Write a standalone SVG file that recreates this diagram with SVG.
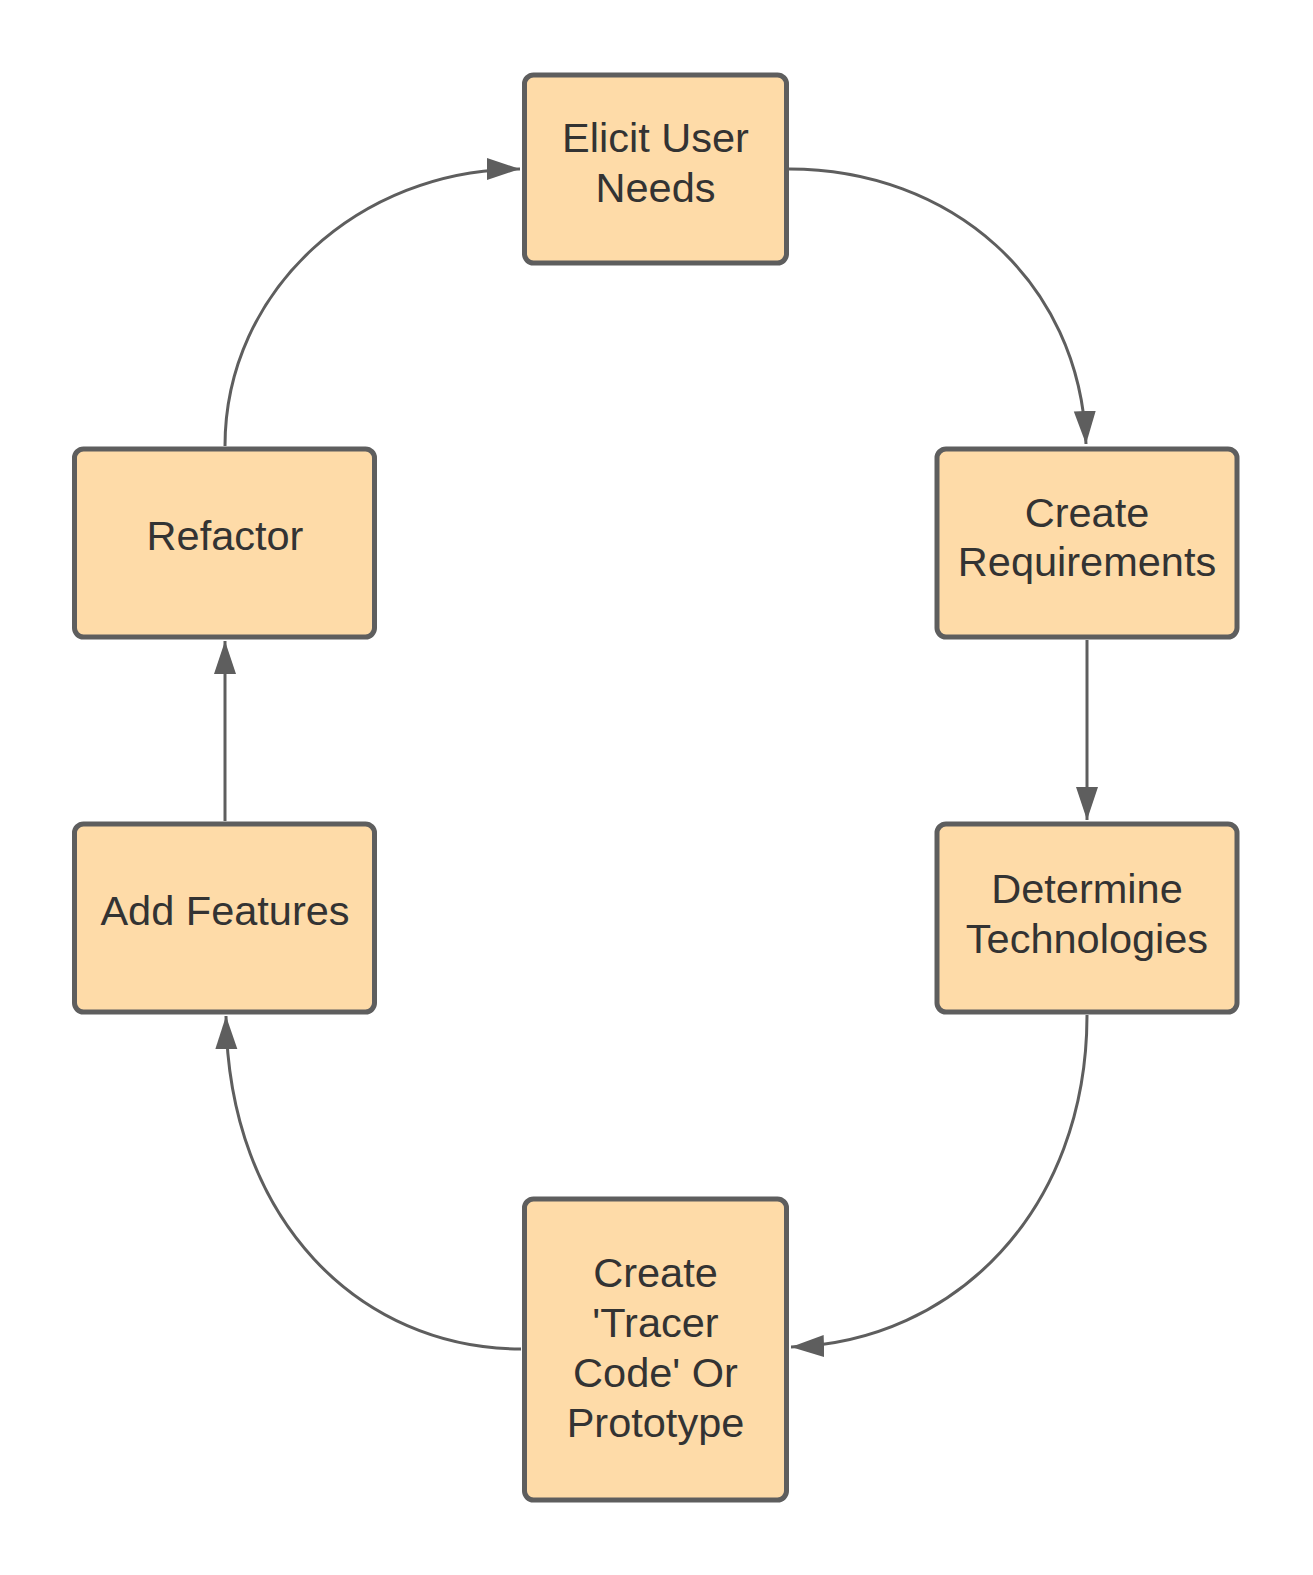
<svg xmlns="http://www.w3.org/2000/svg" width="1313" height="1575" viewBox="0 0 1313 1575">
<style>
.box{fill:#fedba8;stroke:#5e5e5e;stroke-width:5}
.lbl{font-family:"Liberation Sans",Arial,sans-serif;font-size:41.5px;fill:#333333;text-anchor:middle}
.con{fill:none;stroke:#5e5e5e;stroke-width:3}
</style>
<defs>
<marker id="arr" markerUnits="userSpaceOnUse" markerWidth="34" markerHeight="24" refX="33" refY="11" orient="auto">
<path d="M0,0 L33,11 L0,22 z" fill="#5e5e5e"/>
</marker>
</defs>
<rect width="1313" height="1575" fill="#ffffff"/>
<g id="connectors">
<path class="con" d="M225,446 C225,290 360,169 520,169" marker-end="url(#arr)"/>
<path class="con" d="M789,169 C950,169 1080,280 1086,444" marker-end="url(#arr)"/>
<path class="con" d="M1087,640 L1087,820" marker-end="url(#arr)"/>
<path class="con" d="M1087,1015 C1087,1210 955,1342 791,1347" marker-end="url(#arr)"/>
<path class="con" d="M521,1349 C360,1349 228,1220 226,1016" marker-end="url(#arr)"/>
<path class="con" d="M225,821 L225,641" marker-end="url(#arr)"/>
</g>
<g id="elicit">
<rect class="box" x="524.5" y="75" width="262" height="188" rx="9"/>
<text class="lbl" x="655.5" y="152">Elicit User</text>
<text class="lbl" x="655.5" y="202">Needs</text>
</g>
<g id="create-requirements">
<rect class="box" x="937" y="449" width="300" height="188" rx="9"/>
<text class="lbl" x="1087" y="526.5">Create</text>
<text class="lbl" x="1087" y="575.5">Requirements</text>
</g>
<g id="determine-technologies">
<rect class="box" x="937" y="824" width="300" height="188" rx="9"/>
<text class="lbl" x="1087" y="903">Determine</text>
<text class="lbl" x="1087" y="953">Technologies</text>
</g>
<g id="tracer-code">
<rect class="box" x="524.5" y="1199" width="262" height="301" rx="9"/>
<text class="lbl" x="655.5" y="1286.5">Create</text>
<text class="lbl" x="655.5" y="1336.5">'Tracer</text>
<text class="lbl" x="655.5" y="1386.5">Code' Or</text>
<text class="lbl" x="655.5" y="1436.5">Prototype</text>
</g>
<g id="add-features">
<rect class="box" x="74.5" y="824" width="300" height="188" rx="9"/>
<text class="lbl" x="225" y="925">Add Features</text>
</g>
<g id="refactor">
<rect class="box" x="74.5" y="449" width="300" height="188" rx="9"/>
<text class="lbl" x="225" y="550">Refactor</text>
</g>
</svg>
